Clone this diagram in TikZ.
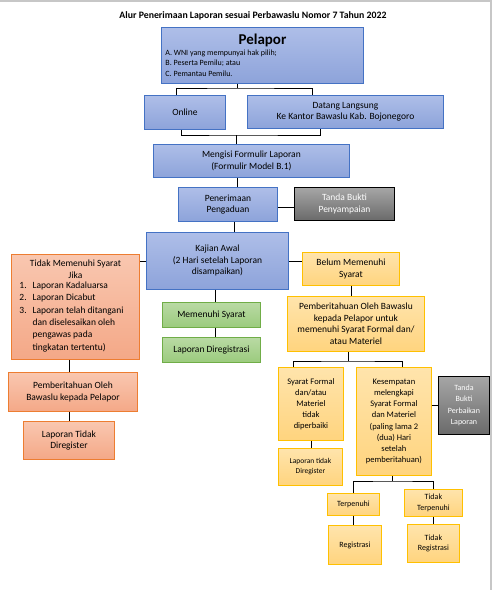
\documentclass[tikz,border=0pt]{standalone}
\usepackage{fontspec}
\setmainfont{Carlito}
\usetikzlibrary{positioning}

\definecolor{biruGaris}{HTML}{4472C4}
\definecolor{biruAtas}{HTML}{AEBEE8}
\definecolor{biruBawah}{HTML}{8DA3DA}
\definecolor{oranyeGaris}{HTML}{ED7D31}
\definecolor{oranyeAtas}{HTML}{F9C7B0}
\definecolor{oranyeBawah}{HTML}{F4A887}
\definecolor{kuningGaris}{HTML}{FFC000}
\definecolor{kuningAtas}{HTML}{FFE4AC}
\definecolor{kuningBawah}{HTML}{FFD47E}
\definecolor{hijauGaris}{HTML}{70AD47}
\definecolor{hijauAtas}{HTML}{B9DAA4}
\definecolor{hijauBawah}{HTML}{9BCB7D}
\definecolor{abuAtas}{HTML}{A6A6A6}
\definecolor{abuBawah}{HTML}{6A6A6A}

\tikzset{
  kotak/.style={anchor=north west, align=center, inner sep=1pt, line width=0.9pt,
    font=\fontsize{9.5}{11.5}\selectfont},
  kotakbiru/.style={kotak, draw=biruGaris, top color=biruAtas, bottom color=biruBawah},
  kotakoranye/.style={kotak, draw=oranyeGaris, top color=oranyeAtas, bottom color=oranyeBawah},
  kotakkuning/.style={kotak, draw=kuningGaris, top color=kuningAtas, bottom color=kuningBawah},
  kotakhijau/.style={kotak, draw=hijauGaris, top color=hijauAtas, bottom color=hijauBawah},
  kotakabu/.style={kotak, draw=black, top color=abuAtas, bottom color=abuBawah, text=white},
  garis/.style={line width=0.9pt}
}

\begin{document}
\begin{tikzpicture}[x=1pt, y=-1pt]
    \useasboundingbox (0,0) rectangle (493,590);
    \draw[black!22, line width=1.2pt] (0,1) -- (491,1) -- (491,590);

    % Judul
    \node[font=\fontsize{9.8}{11}\selectfont\bfseries] (judul) at (253,16)
        {Alur Penerimaan Laporan sesuai Perbawaslu Nomor 7 Tahun 2022};

    % Baris atas
    \node[kotakbiru, minimum width=202pt, minimum height=56pt] (pelapor) at (161,27)
        {\begin{minipage}{194pt}\centering
         {\fontsize{15}{15}\selectfont\bfseries Pelapor}\par\raggedright
         \fontsize{8}{10.5}\selectfont A. WNI yang mempunyai hak pilih;\\
         B. Peserta Pemilu; atau\\ C. Pemantau Pemilu.\end{minipage}};
    \node[kotakbiru, minimum width=81pt, minimum height=34pt] (online) at (144,95) {Online};
    \node[kotakbiru, minimum width=196pt, minimum height=33pt] (datang) at (247,95)
        {Datang Langsung\\Ke Kantor Bawaslu Kab. Bojonegoro};
    \node[kotakbiru, minimum width=196pt, minimum height=33pt] (mengisi) at (153,144)
        {Mengisi Formulir Laporan\\(Formulir Model B.1)};
    \node[kotakbiru, minimum width=99pt, minimum height=34pt] (penerimaan) at (178,187)
        {Penerimaan\\Pengaduan};
    \node[kotakabu, minimum width=100pt, minimum height=33pt] (bukti1) at (294,187)
        {Tanda Bukti\\Penyampaian};
    \node[kotakbiru, minimum width=142pt, minimum height=57pt] (kajian) at (146,232)
        {Kajian Awal\\(2 Hari setelah Laporan\\disampaikan)};

    % Cabang kiri
    \node[kotakoranye, minimum width=128pt, minimum height=105pt,
          font=\fontsize{9.5}{12.3}\selectfont] (tidakSyarat) at (11,254)
        {\begin{minipage}{124pt}\centering Tidak Memenuhi Syarat\\Jika\par\raggedright
         \begin{tabular}{@{\hspace{6pt}}l@{\hspace{6pt}}l@{}}
         1. & Laporan Kadaluarsa\\
         2. & Laporan Dicabut\\
         3. & Laporan telah ditangani\\
            & dan diselesaikan oleh\\
            & pengawas pada\\
            & tingkatan tertentu)
         \end{tabular}\end{minipage}};
    \node[kotakoranye, minimum width=129pt, minimum height=39pt] (pemberitahuan1) at (8,372)
        {Pemberitahuan Oleh\\Bawaslu kepada Pelapor};
    \node[kotakoranye, minimum width=91pt, minimum height=38pt] (tidakRegister1) at (23,421)
        {Laporan Tidak\\Diregister};

    % Cabang tengah
    \node[kotakhijau, minimum width=98pt, minimum height=25pt] (memenuhi) at (162,302)
        {Memenuhi Syarat};
    \node[kotakhijau, minimum width=98pt, minimum height=25pt] (diregistrasi) at (162,337)
        {Laporan Diregistrasi};

    % Cabang kanan
    \node[kotakkuning, minimum width=97pt, minimum height=33pt] (belum) at (302,252)
        {Belum Memenuhi\\Syarat};
    \node[kotakkuning, minimum width=137pt, minimum height=55pt] (pemberitahuan2) at (287,296)
        {Pemberitahuan Oleh Bawaslu\\kepada Pelapor untuk\\memenuhi Syarat Formal dan/\\atau Materiel};
    \node[kotakkuning, minimum width=65pt, minimum height=73pt,
          font=\fontsize{8.5}{11}\selectfont] (tidakDiperbaiki) at (278,367)
        {Syarat Formal\\dan/atau\\Materiel\\tidak\\diperbaiki};
    \node[kotakkuning, minimum width=75pt, minimum height=108pt,
          font=\fontsize{8.5}{11.2}\selectfont] (kesempatan) at (356,367)
        {Kesempatan\\melengkapi\\Syarat Formal\\dan Materiel\\(paling lama 2\\(dua) Hari\\setelah\\pemberitahuan)};
    \node[kotakabu, minimum width=51pt, minimum height=58pt,
          font=\fontsize{8}{11.3}\selectfont] (bukti2) at (438,376)
        {Tanda\\Bukti\\Perbaikan\\Laporan};
    \node[kotakkuning, minimum width=64pt, minimum height=37pt,
          font=\fontsize{7.5}{10}\selectfont] (tidakRegister2) at (278,448)
        {Laporan tidak\\Diregister};
    \node[kotakkuning, minimum width=52pt, minimum height=22pt,
          font=\fontsize{8}{10}\selectfont] (terpenuhi) at (327,493) {Terpenuhi};
    \node[kotakkuning, minimum width=58pt, minimum height=27pt,
          font=\fontsize{8}{10.5}\selectfont] (tidakTerpenuhi) at (404,489) {Tidak\\Terpenuhi};
    \node[kotakkuning, minimum width=53pt, minimum height=39pt,
          font=\fontsize{8}{10}\selectfont] (registrasi) at (328,525) {Registrasi};
    \node[kotakkuning, minimum width=52pt, minimum height=38pt,
          font=\fontsize{8}{10.5}\selectfont] (tidakRegistrasi) at (407,524) {Tidak\\Registrasi};

    % Titik cabang
    \coordinate (cabang1) at (237,88);
    \coordinate (gabung1) at (236,135);
    \coordinate (cabang2) at (348,361);
    \coordinate (cabang3) at (392,481);
    \coordinate (turun1) at ([xshift=9.5pt]penerimaan.north);
    \coordinate (turun2) at ([xshift=6.5pt]penerimaan.south);
    \coordinate (turun3) at ([xshift=4pt]memenuhi.north);
    \coordinate (samping1) at ([yshift=-3pt]penerimaan.east);

    % Garis penghubung
    \draw[garis] (cabang1 |- pelapor.south) -- (cabang1);
    \draw[garis] ([xshift=-8.5pt]online.north) |- (cabang1) -| ([xshift=-33pt]datang.north);
    \draw[garis] ([xshift=-3.5pt]online.south) |- (gabung1) -| ([xshift=-25pt]datang.south);
    \draw[garis] (gabung1) -- (gabung1 |- mengisi.north);
    \draw[garis] (turun1 |- mengisi.south) -- (turun1);
    \draw[garis] (samping1) -- (samping1 -| bukti1.west);
    \draw[garis] (turun2) -- (turun2 |- kajian.north);
    \draw[garis] (kajian.west) -- (kajian.west -| tidakSyarat.east);
    \draw[garis] (kajian.east) -- (kajian.east -| belum.west);
    \draw[garis] (turun3 |- kajian.south) -- (turun3);
    \draw[garis] (turun3 |- memenuhi.south) -- (turun3 |- diregistrasi.north);
    \draw[garis] (tidakSyarat.south -| tidakRegister1.north) -- (tidakRegister1.north |- pemberitahuan1.north);
    \draw[garis] (pemberitahuan1.south -| tidakRegister1.north) -- (tidakRegister1.north);
    \draw[garis] (belum.south) -- (belum.south |- pemberitahuan2.north);
    \draw[garis] (cabang2 |- pemberitahuan2.south) -- (cabang2);
    \draw[garis] ([xshift=-17.5pt]tidakDiperbaiki.north) |- (cabang2) -| ([xshift=8.5pt]kesempatan.north);
    \draw[garis] (tidakDiperbaiki.south) -- (tidakDiperbaiki.south |- tidakRegister2.north);
    \draw[garis] (bukti2.west -| kesempatan.east) -- (bukti2.west);
    \draw[garis] (cabang3 |- kesempatan.south) -- (cabang3);
    \draw[garis] (terpenuhi.north) |- (cabang3) -| (tidakTerpenuhi.north);
    \draw[garis] (terpenuhi.south) -- (terpenuhi.south |- registrasi.north);
    \draw[garis] (tidakTerpenuhi.south) -- (tidakTerpenuhi.south |- tidakRegistrasi.north);
\end{tikzpicture}
\end{document}
